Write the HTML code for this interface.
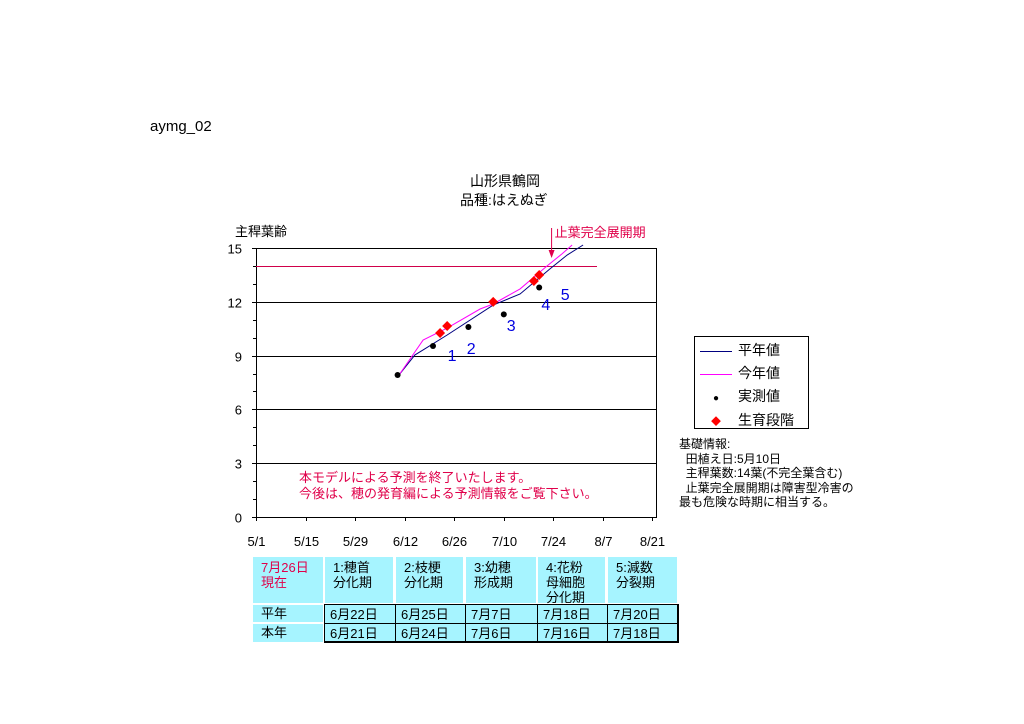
<!DOCTYPE html>
<html><head><meta charset="utf-8"><style>
body{margin:0;width:1024px;height:724px;background:#fff;position:relative;overflow:hidden;font-family:"Liberation Sans","Noto Sans CJK JP",sans-serif;}
.t{position:absolute;white-space:nowrap;font-size:13px;color:#000;}
.c{position:absolute;background:#a6f4ff;font-size:13px;line-height:15px;padding:3px 0 0 8px;box-sizing:border-box;white-space:nowrap;}
.b{border:1px solid #000;}
</style></head><body>
<div class="t" style="left:150px;top:118px;font-size:15px">aymg_02</div>
<div class="t" style="left:470px;top:171px;font-size:14px">山形県鶴岡</div>
<div class="t" style="left:460px;top:190px;font-size:14px">品種:はえぬぎ</div>
<svg id="chart" width="1024" height="724" style="position:absolute;left:0;top:0"></svg>
<div class="t" style="left:694px;top:336px;width:113px;height:91px;border:1px solid #000;"></div>
<div class="t" style="left:700px;top:340px;font-size:14px"><span style="display:inline-block;width:32px;border-top:1px solid #000080;vertical-align:middle;margin-right:6px"></span>平年値</div>
<div class="t" style="left:700px;top:363px;font-size:14px"><span style="display:inline-block;width:32px;border-top:1px solid #ff00ff;vertical-align:middle;margin-right:6px"></span>今年値</div>
<div class="t" style="left:700px;top:386px;font-size:14px"><span style="display:inline-block;width:32px;text-align:center;margin-right:6px;font-size:10px">●</span>実測値</div>
<div class="t" style="left:700px;top:410px;font-size:14px"><span style="display:inline-block;width:32px;text-align:center;margin-right:6px;color:#f00;font-size:10px">◆</span>生育段階</div>
<div class="t" style="left:679px;top:437px;font-size:12px;line-height:14.5px">基礎情報:<br>&nbsp;&nbsp;田植え日:5月10日<br>&nbsp;&nbsp;主稈葉数:14葉(不完全葉含む)<br>&nbsp;&nbsp;止葉完全展開期は障害型冷害の<br>最も危険な時期に相当する。</div>
<div class="t" style="left:299px;top:470px;color:#e0004a;font-size:13px;line-height:16px">本モデルによる予測を終了いたします。<br>今後は、穂の発育編による予測情報をご覧下さい。</div>
<div>
<div class="c" style="left:253px;top:557px;width:70px;height:46px;color:#e0004a">7月26日<br>現在</div>
<div class="c" style="left:325px;top:557px;width:68px;height:46px">1:穂首<br>分化期</div>
<div class="c" style="left:396px;top:557px;width:67px;height:46px">2:枝梗<br>分化期</div>
<div class="c" style="left:466px;top:557px;width:70px;height:46px">3:幼穂<br>形成期</div>
<div class="c" style="left:538px;top:557px;width:67px;height:46px">4:花粉<br>母細胞<br>分化期</div>
<div class="c" style="left:608px;top:557px;width:69px;height:46px">5:減数<br>分裂期</div>
<div class="c" style="left:253px;top:605px;width:70px;height:17px;padding-top:1px">平年</div>
<div class="c" style="left:253px;top:624px;width:70px;height:18px;padding-top:1px">本年</div>
<div class="c b" style="left:324px;top:604px;width:354px;height:38px;padding:0;background:none"></div>
</div>
<script>
const ticksX=['5/1','5/15','5/29','6/12','6/26','7/10','7/24','8/7','8/21'];
const ticksY=[0,3,6,9,12,15];
const normalDay=[40.4,44.9,47.2,54,67,74.6,83,87.9,92.4];
const normalVal=[7.92,9.04,9.32,10.15,11.82,12.44,13.83,14.61,15.17];
const thisDay=[40.4,47.2,54,63.3,67,74.6,82.2,86.4,89.3];
const thisVal=[7.92,9.87,10.54,11.6,11.88,12.72,14.0,14.67,15.17];
const measDay=[40,50,60,70,80];
const measVal=[7.92,9.54,10.6,11.3,12.8];
const stageDay=[52,54,67,78.5,80];
const stageVal=[10.26,10.65,12.0,13.16,13.5];
const stageLabels=['1','2','3','4','5'];
const normalRows=['6月22日','6月25日','7月7日','7月18日','7月20日'];
const thisRows=['6月21日','6月24日','7月6日','7月16日','7月18日'];
const flagLeafDay=83.5;
const labelDx=[12,24,18,12,26], labelDy=[22,22,23,23,19];
const X=d=>256+d*3.54, Y=v=>517-v*17.93;
const s=document.getElementById('chart');const NS='http://www.w3.org/2000/svg';
function el(t,a){const e=document.createElementNS(NS,t);for(const k in a)e.setAttribute(k,a[k]);s.appendChild(e);return e;}
let e=el('rect',{x:256.5,y:248.5,width:400,height:269,fill:'none',stroke:'#000'});

ticksY.forEach(v=>{const y=Math.round(Y(v))+.5;
 if(v>0&&v<15){const g=el('line',{x1:256,x2:656,y1:y,y2:y,stroke:'#000'});}
 el('line',{x1:252,x2:256,y1:y,y2:y,stroke:'#000'});
 const t=el('text',{x:242,y:y+5,'text-anchor':'end','font-size':13});t.textContent=v;
 
 for(let m=1;m<3&&v<15;m++){const ym=Math.round(Y(v+m))+.5;el('line',{x1:253,x2:256,y1:ym,y2:ym,stroke:'#000'});}
});
ticksX.forEach((l,i)=>{const x=Math.round(X(i*14))+.5;el('line',{x1:x,x2:x,y1:517,y2:521,stroke:'#000'});
 const t=el('text',{x:x,y:546,'text-anchor':'middle','font-size':13});t.textContent=l;
 });
const yt=el('text',{x:235,y:236,'font-size':13});yt.textContent='主稈葉齢';

e=el('line',{x1:256,x2:597,y1:Math.round(Y(14))+.5,y2:Math.round(Y(14))+.5,stroke:'#d0004a'});

function line(ds,vs,c,n){const p=el('polyline',{points:ds.map((d,i)=>X(d)+','+Y(vs[i])).join(' '),fill:'none',stroke:c,'stroke-width':1});
 }
line(normalDay,normalVal,'#000080','normal-line');
line(thisDay,thisVal,'#ff00ff','this-year-line');
measDay.forEach((d,i)=>{const c=el('circle',{cx:X(d),cy:Y(measVal[i]),r:3,fill:'#000'});
 });
stageDay.forEach((d,i)=>{const x=X(d),y=Y(stageVal[i]);const p=el('polygon',{points:`${x},${y-5} ${x+5},${y} ${x},${y+5} ${x-5},${y}`,fill:'#f00'});
 
 const t=el('text',{x:x+labelDx[i],y:y+labelDy[i]+6,fill:'#0000e0','font-size':16,'text-anchor':'middle'});t.textContent=stageLabels[i];
 });
const fx=X(flagLeafDay);
el('line',{x1:fx,x2:fx,y1:228,y2:255,stroke:'#e0004a'});
el('polygon',{points:`${fx-3},250 ${fx+3},250 ${fx},258`,fill:'#e0004a'});
const ft=el('text',{x:fx+3,y:237,fill:'#e0004a','font-size':13});ft.textContent='止葉完全展開期';

const cols=[[324,395],[395,465],[465,537],[537,607],[607,678]];
[[normalRows,604,623],[thisRows,623,642]].forEach(([rows,y0,y1])=>rows.forEach((r,i)=>{
 const [a,b]=cols[i];const rc=el('rect',{x:a+.5,y:y0+.5,width:b-a,height:y1-y0,fill:'#a6f4ff',stroke:'#000'});
 
 const t=el('text',{x:a+6,y:y0+15,'font-size':13});t.textContent=r;
 }));
</script>
</body></html>
